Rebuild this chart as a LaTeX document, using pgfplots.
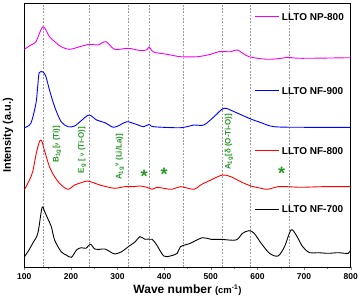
\documentclass[border=0pt]{standalone}
\usepackage{pgfplots}
\pgfplotsset{compat=1.18}
\usepackage{fontspec}
\setmainfont{Liberation Sans}
\definecolor{ann}{RGB}{40,150,40}
\definecolor{pinkc}{RGB}{240,0,240}
\begin{document}
\begin{tikzpicture}
\useasboundingbox (-24.3pt,-35.7pt) rectangle (335.7pt,267.3pt);
\begin{axis}[
 at={(0,0)}, anchor=south west, scale only axis, width=326.4pt, height=264pt,
 xmin=100, xmax=800, ymin=32.7, ymax=296.7,
 xtick={100,200,...,800}, minor x tick num=1, tick align=outside, xtick pos=bottom,
 major tick length=3pt, minor tick length=2pt,
 ytick=\empty,
 axis line style={line width=0.8pt},
 /pgf/number format/assume math mode=true,
 tick label style={font=\bfseries\fontsize{8.5}{10}\selectfont},
 xlabel={\bfseries Wave number {\fontsize{9.5}{10}\selectfont(cm\textsuperscript{-1})}},
 ylabel={\bfseries Intensity (a.u.)},
 xlabel style={font=\fontsize{12}{14}\selectfont, at={(axis description cs:0.5,-0.086)}, anchor=center},
 ylabel style={font=\fontsize{11}{13}\selectfont, at={(axis description cs:-0.05,0.5)}, anchor=center},
 every axis plot/.append style={line width=0.9pt, smooth, tension=0.5},
]
% dashed reference lines
\foreach \v in {140,240,322,368,440,525,584,669}{
  \edef\tmp{\noexpand\draw[gray!80, line width=0.5pt, dash pattern=on 1.8pt off 1.5pt] (axis cs:\v,32.7) -- (axis cs:\v,296.7);}
  \tmp
}
% NF-700
\addplot[black] coordinates {(100,43)(110,50)(118,56.7)(129,66.7)(138,92.3)(144,88)(150,81.7)(158,73.3)(165,60)(179,48.3)(190,45)(201,42.7)(212,50)(222,52.3)(232,51.7)(242,55.7)(251,51)(262,50.7)(273,51)(284,48.3)(294,46)(309,48.3)(323,53.3)(338,58.3)(348,63.3)(359,60.7)(374,60.7)(384,55)(399,44)(413,44)(428,46.7)(435,53.3)(456,56.7)(482,62.3)(500,60.7)(521,60.7)(554,60)(568,66.7)(582,69.3)(593,66.7)(608,56.7)(626,46.7)(644,44)(658,53.3)(672,70)(683,65)(697,53.3)(712,47.3)(730,47.3)(752,46.7)(773,47.3)(795,46.7)(800,50.7)};
% NF-800
\addplot[red] coordinates {(100,110)(111,120)(118,128.3)(125,145)(129,153)(133,159)(136,160)(139,157)(143,150)(154,133.3)(165,123.3)(179,115)(194,110.7)(208,115)(222,117.3)(235,119)(248,117.3)(262,115)(276,113.3)(294,111.7)(316,113.3)(334,113.3)(348,114)(363,112.7)(374,110.7)(384,112.7)(399,111.7)(417,110.7)(435,113.3)(464,110.7)(478,115)(500,120)(525,125)(543,123.3)(564,118.3)(586,114)(608,111.7)(622,110.7)(644,113.3)(665,113.3)(694,112.7)(737,113.3)(800,113.3)};
% NF-900
\addplot[blue] coordinates {(100,172.3)(114,176.7)(125,196.7)(129,215)(132,227.3)(140,228)(146,224)(154,210)(165,193.3)(179,178.3)(194,173.3)(208,174)(222,179.3)(239,185)(255,180)(273,177.3)(291,172.7)(305,175)(320,178.3)(338,176)(356,173.3)(368,175.7)(377,173.3)(435,172.3)(464,175)(485,175)(507,183.3)(528,191.7)(550,188.3)(582,181.7)(608,177.3)(636,173.3)(700,172.7)(800,172.7)};
% NP-800
\addplot[pinkc] coordinates {(100,250.7)(114,255)(125,258.3)(140,273.3)(154,263.3)(168,257.3)(179,253.3)(197,250.7)(219,253.3)(240,255.7)(258,255)(275,258.3)(294,250.7)(323,251.7)(348,249.5)(362,250)(368,253)(374,249)(380,247.5)(406,245.7)(435,243.3)(471,243.3)(500,245.7)(517,248.3)(543,248.3)(557,250)(582,243.3)(622,240.7)(651,241.7)(665,242.7)(694,241.7)(800,242.3)};
% legend
\addplot[pinkc, line width=1pt, sharp plot] coordinates {(595,283)(646,283)};
\addplot[blue, line width=1pt, sharp plot] coordinates {(595,209.3)(646,209.3)};
\addplot[red, line width=1pt, sharp plot] coordinates {(595,149.3)(646,149.3)};
\addplot[black, line width=1pt, sharp plot] coordinates {(595,90.7)(646,90.7)};
\node[anchor=west, font=\bfseries\fontsize{10}{12}\selectfont, inner sep=1pt] at (axis cs:650,283) {LLTO NP-800};
\node[anchor=west, font=\bfseries\fontsize{10}{12}\selectfont, inner sep=1pt] at (axis cs:650,209.3) {LLTO NF-900};
\node[anchor=west, font=\bfseries\fontsize{10}{12}\selectfont, inner sep=1pt] at (axis cs:650,149.3) {LLTO NF-800};
\node[anchor=west, font=\bfseries\fontsize{10}{12}\selectfont, inner sep=1pt] at (axis cs:650,90.7) {LLTO NF-700};
% annotations
\begin{scope}[every node/.style={rotate=90, text=ann, font=\bfseries\fontsize{8}{9}\selectfont, inner sep=0pt}]
\node at (axis cs:170,156) {B\textsubscript{1g}[{\fontsize{6}{6}\selectfont ν} (Ti)]};
\node at (axis cs:224,150) {E\textsubscript{g} [ {\fontsize{6}{6}\selectfont ν} (Ti-O)]};
\node at (axis cs:305,143) {A\textsubscript{1g}\textsuperscript{ν} (Li/La)]};
\node at (axis cs:539,158) {A\textsubscript{1g}[δ (O-Ti-O)]};
\end{scope}
\node[text=ann, font=\bfseries\fontsize{18}{18}\selectfont, inner sep=0pt] at (axis cs:357,124) {*};
\node[text=ann, font=\bfseries\fontsize{18}{18}\selectfont, inner sep=0pt] at (axis cs:400,126) {*};
\node[text=ann, font=\bfseries\fontsize{18}{18}\selectfont, inner sep=0pt] at (axis cs:652,127) {*};
\end{axis}
\end{tikzpicture}
\end{document}
